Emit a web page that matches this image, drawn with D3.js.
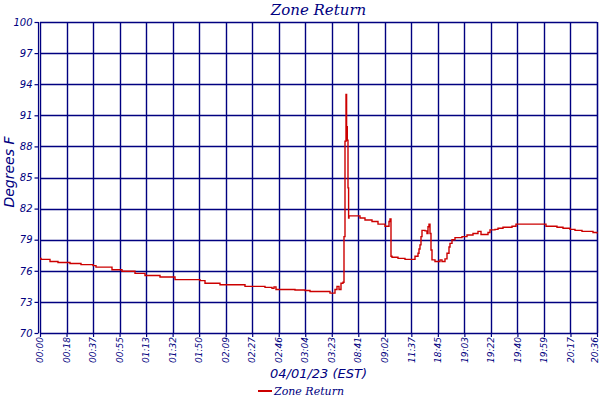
<!DOCTYPE html>
<html>
<head>
<meta charset="utf-8">
<script src="https://cdn.jsdelivr.net/npm/d3@7"></script>
<style>
  body { margin: 0; background: #fff; }
  svg { display: block; }
</style>
</head>
<body>
<svg id="chart"></svg>
<script>
// tick labels along the bottom (one per gridline)
const timeLabels = ["00:00", "00:18", "00:37", "00:55", "01:13", "01:32", "01:50", "02:09",
    "02:27", "02:46", "03:04", "03:23", "08:41", "09:02", "11:37", "18:45", "19:03",
    "19:22", "19:40", "19:59", "20:17", "20:36"];
const yTicks = [70, 73, 76, 79, 82, 85, 88, 91, 94, 97, 100];

// sample index and zone return temperature (deg F)
const totalSamples = 557;
const sampleIdx = [0, 1, 10, 18, 30, 41, 53, 56, 72, 82, 95, 105, 120, 135, 160, 165, 180,
    205, 225, 232, 234, 236, 255, 265, 270, 290, 295, 297, 299, 301, 303, 304, 305, 306,
    306.6, 307.3, 308, 308.6, 309, 320, 325, 332, 338, 345, 349, 350, 351, 352, 358, 365,
    375, 378, 379, 380, 381, 382, 385, 387, 388, 389, 390, 391, 392, 395, 400, 402, 405,
    407, 409, 410, 412, 415, 422, 427, 433, 438, 441, 448, 450, 455, 458, 463, 472, 476,
    506, 517, 523, 530, 535, 542, 553, 557];
const zoneReturn = [77.2, 77.1, 76.9, 76.8, 76.7, 76.6, 76.5, 76.35, 76.1, 75.95, 75.75,
    75.55, 75.4, 75.15, 75.05, 74.8, 74.65, 74.5, 74.4, 74.3, 74.45, 74.2, 74.15, 74.1,
    74.0, 73.85, 74.2, 74.5, 74.2, 74.8, 74.9, 79.3, 88.5, 93.0, 89.9, 88.6, 84.0, 81.1,
    81.3, 81.1, 80.9, 80.75, 80.5, 80.3, 80.75, 81.0, 77.4, 77.3, 77.2, 77.1, 77.4, 77.7,
    78.1, 78.5, 79.3, 79.9, 79.85, 79.6, 80.25, 80.5, 79.6, 78.0, 77.05, 76.9, 77.05,
    76.9, 77.15, 77.7, 78.3, 78.65, 79.0, 79.2, 79.3, 79.45, 79.6, 79.8, 79.5, 79.7,
    79.95, 80.0, 80.1, 80.2, 80.3, 80.5, 80.3, 80.2, 80.1, 80.0, 79.9, 79.8, 79.7, 79.6];

const width = 600, height = 400;
const margin = { top: 22, right: 3, bottom: 67, left: 40 };
const navy = "#000080";

const svg = d3.select("#chart")
    .attr("width", width)
    .attr("height", height)
    .attr("viewBox", [0, 0, width, height]);

const x = d3.scaleLinear()
    .domain([0, totalSamples])
    .range([margin.left, width - margin.right]);

const y = d3.scaleLinear()
    .domain([70, 100])
    .range([height - margin.bottom, margin.top]);

const tickPos = timeLabels.map((d, i) => i * totalSamples / (timeLabels.length - 1));

// vertical gridlines
svg.append("g")
    .selectAll("line")
    .data(tickPos)
    .join("line")
    .attr("x1", d => Math.round(x(d)) + 0.5)
    .attr("x2", d => Math.round(x(d)) + 0.5)
    .attr("y1", y(100))
    .attr("y2", y(70))
    .attr("stroke", navy)
    .attr("stroke-width", 1.4);

// horizontal gridlines
svg.append("g")
    .selectAll("line")
    .data(yTicks)
    .join("line")
    .attr("x1", x(0))
    .attr("x2", x(totalSamples))
    .attr("y1", d => Math.round(y(d)) + 0.5)
    .attr("y2", d => Math.round(y(d)) + 0.5)
    .attr("stroke", navy)
    .attr("stroke-width", 1.4);

// extra frame line on the left and right edge
svg.append("line")
    .attr("x1", x(0) - 1.5).attr("x2", x(0) - 1.5)
    .attr("y1", y(100)).attr("y2", y(70))
    .attr("stroke", navy).attr("stroke-width", 1.2);
svg.append("line")
    .attr("x1", x(totalSamples) + 0.5).attr("x2", x(totalSamples) + 0.5)
    .attr("y1", y(100)).attr("y2", y(70))
    .attr("stroke", navy).attr("stroke-width", 1.2);

// y axis
const yAxis = svg.append("g")
    .attr("transform", `translate(${x(0) - 1.5},0)`)
    .call(d3.axisLeft(y).tickValues(yTicks).tickSize(4).tickPadding(2));
yAxis.select(".domain").remove();
yAxis.selectAll("line").attr("stroke", navy).attr("stroke-width", 1.2);
yAxis.selectAll("text")
    .attr("fill", navy)
    .style("font", "italic 10px 'DejaVu Sans', sans-serif");

// x axis
const xAxis = svg.append("g")
    .attr("transform", `translate(0,${y(70)})`)
    .call(d3.axisBottom(x).tickValues(tickPos).tickSize(4)
        .tickFormat((d, i) => timeLabels[i]));
xAxis.select(".domain").remove();
xAxis.selectAll("line").attr("stroke", navy).attr("stroke-width", 1.2);
xAxis.selectAll("text")
    .attr("fill", navy)
    .attr("text-anchor", "end")
    .attr("transform", "rotate(-90)")
    .attr("x", -4)
    .attr("y", (d, i) => i === timeLabels.length - 1 ? -2 : 0) // keep last label inside
    .attr("dy", "0.3em")
    .style("font", "italic 9px 'DejaVu Sans', sans-serif");

// data line
const line = d3.line()
    .x(d => x(d[0]))
    .y(d => y(d[1]))
    .curve(d3.curveStepAfter);

svg.append("path")
    .datum(d3.zip(sampleIdx, zoneReturn))
    .attr("fill", "none")
    .attr("stroke", "#cc0000")
    .attr("stroke-width", 1.4)
    .attr("d", line);

// titles
svg.append("text")
    .attr("x", (x(0) + x(totalSamples)) / 2)
    .attr("y", 15)
    .attr("text-anchor", "middle")
    .attr("fill", navy)
    .style("font", "italic 15px 'DejaVu Serif', serif")
    .text("Zone Return");

svg.append("text")
    .attr("transform", `translate(9,172) rotate(-90)`)
    .attr("text-anchor", "middle")
    .attr("dy", "0.35em")
    .attr("fill", navy)
    .style("font", "italic 14px 'DejaVu Sans', sans-serif")
    .text("Degrees F");

svg.append("text")
    .attr("x", (x(0) + x(totalSamples)) / 2)
    .attr("y", 378)
    .attr("text-anchor", "middle")
    .attr("fill", navy)
    .style("font", "italic 13px 'DejaVu Sans', sans-serif")
    .text("04/01/23 (EST)");

// legend
const legend = svg.append("g").attr("transform", "translate(258,391)");
legend.append("line")
    .attr("x1", 0).attr("x2", 14)
    .attr("stroke", "#cc0000").attr("stroke-width", 2);
legend.append("text")
    .attr("x", 16)
    .attr("dy", "0.35em")
    .attr("fill", navy)
    .style("font", "italic 11px 'DejaVu Serif', serif")
    .text("Zone Return");
</script>
</body>
</html>
